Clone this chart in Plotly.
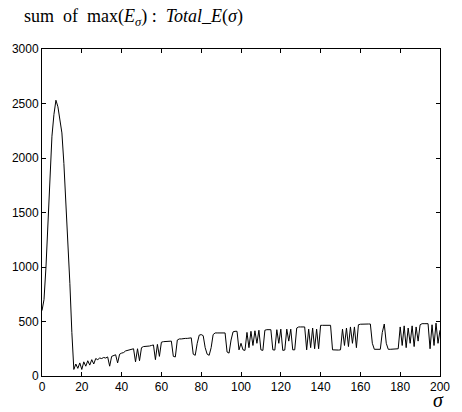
import plotly.graph_objects as go

sigma = list(range(0, 201))
total_e = [
    600, 700, 1000, 1450, 1850, 2200, 2400, 2530, 2470, 2350,
    2230, 1950, 1600, 1250, 850, 400, 60, 110, 70, 120,
    60, 130, 90, 140, 100, 150, 110, 160, 150, 165,
    160, 170, 165, 175, 90, 180, 190, 195, 120, 200,
    210, 215, 230, 235, 240, 245, 250, 130, 250, 140,
    260, 270, 270, 275, 275, 280, 285, 150, 290, 180,
    310, 315, 315, 320, 320, 320, 180, 175, 330, 340,
    340, 345, 345, 345, 345, 350, 200, 190, 300, 375,
    380, 370, 260, 200, 190, 260, 380, 395, 395, 395,
    400, 400, 395, 220, 210, 330, 405, 410, 410, 240,
    300, 240, 235, 400, 260, 410, 280, 415, 300, 420,
    240, 235, 420, 425, 425, 425, 240, 238, 425, 300,
    430, 235, 238, 430, 320, 430, 240, 240, 440, 450,
    450, 450, 450, 240, 430, 260, 440, 250, 430, 250,
    465, 465, 465, 465, 465, 465, 240, 238, 238, 238,
    240, 430, 280, 440, 270, 450, 300, 450, 260, 470,
    475, 477, 477, 477, 477, 477, 300, 245, 245, 245,
    245, 400, 477, 300, 245, 245, 245, 245, 245, 250,
    450, 280, 460, 260, 440, 300, 460, 270, 450, 320,
    470, 480, 480, 480, 480, 250, 470, 280, 485, 300,
    420,
]
x_ticks = [0, 20, 40, 60, 80, 100, 120, 140, 160, 180, 200]
y_ticks = [0, 500, 1000, 1500, 2000, 2500, 3000]

title_text = ("sum&nbsp;&nbsp;of&nbsp;&nbsp;max(<i>E</i><sub><i>σ</i></sub>)&nbsp;:&nbsp;&nbsp;"
              "<i>Total_E</i>(<i>σ</i>)")
xlabel_text = "<i>σ</i>"

fig = go.Figure()
fig.add_trace(go.Scatter(x=sigma, y=total_e, mode="lines",
                         line=dict(color="black", width=1), showlegend=False))

axis_common = dict(showline=True, linecolor="black", linewidth=1, mirror="ticks",
                   ticks="inside", ticklen=4, tickcolor="black", showgrid=False,
                   zeroline=False, tickfont=dict(family="Liberation Sans", size=12, color="black"))
fig.update_xaxes(range=[0, 200], tickvals=x_ticks, **axis_common)
fig.update_yaxes(range=[0, 3000], tickvals=y_ticks, **axis_common)

fig.add_annotation(text=title_text, xref="paper", yref="paper",
                   x=(22 - 42) / 405, y=(376 - 17) / 327, xanchor="left", yanchor="middle",
                   showarrow=False, font=dict(family="Liberation Serif", size=18, color="black"))
fig.add_annotation(text=xlabel_text, xref="paper", yref="paper",
                   x=(445 - 42) / 405, y=(376 - 412) / 327, xanchor="center", yanchor="bottom",
                   showarrow=False, borderpad=0,
                   font=dict(family="Liberation Serif", size=20, color="black"))

fig.update_layout(width=462, height=412, margin=dict(l=42, r=15, t=49, b=36),
                  paper_bgcolor="white", plot_bgcolor="white")
fig.write_html("out.html")
